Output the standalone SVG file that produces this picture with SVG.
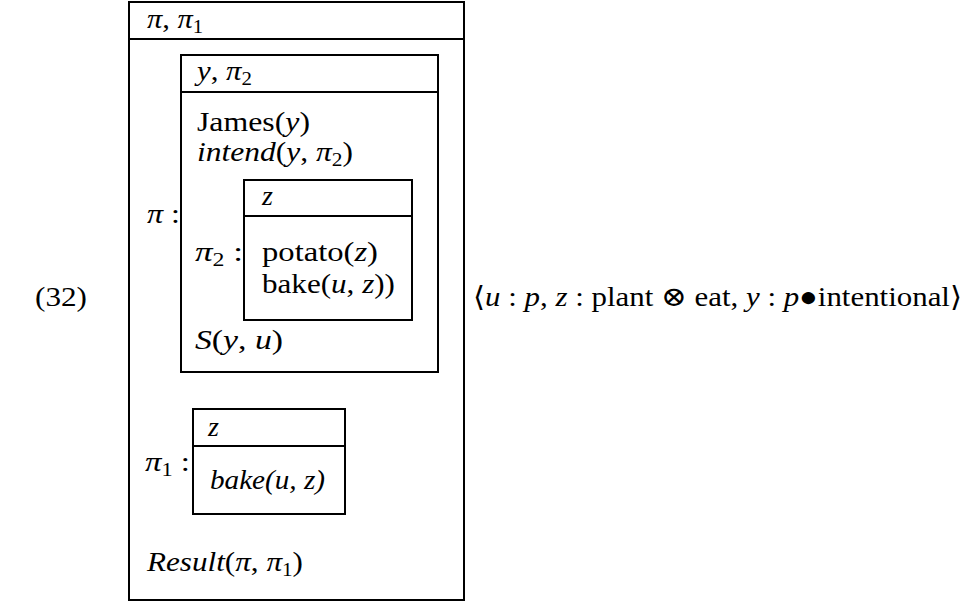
<svg xmlns="http://www.w3.org/2000/svg" width="966" height="602" viewBox="0 0 966 602">
<style>
rect.b{fill:none;stroke:#000;stroke-width:2}
line.h{stroke:#000;stroke-width:2}
text{font-family:"Liberation Serif","DejaVu Serif",serif;font-size:28px;fill:#000}
.i{font-style:italic}
.s{font-size:19px}
</style>
<rect width="966" height="602" fill="#fff"/>
<text x="35" y="306" textLength="52" lengthAdjust="spacingAndGlyphs">(32)</text>
<g id="outer">
<rect class="b" x="129" y="2" width="335" height="598"/>
<line class="h" x1="129" y1="39" x2="464" y2="39"/>
<text x="147" y="28" textLength="56" lengthAdjust="spacingAndGlyphs"><tspan class="i">π</tspan>, <tspan class="i">π</tspan><tspan class="s" dy="5">1</tspan></text>
<text x="147" y="223" textLength="33" lengthAdjust="spacingAndGlyphs"><tspan class="i">π</tspan> :</text>
<text x="147" y="571" textLength="156" lengthAdjust="spacingAndGlyphs"><tspan class="i">Result</tspan>(<tspan class="i">π</tspan>, <tspan class="i">π</tspan><tspan class="s" dy="5">1</tspan><tspan dy="-5">)</tspan></text>
</g>
<g id="box-y">
<rect class="b" x="181" y="55" width="257" height="317"/>
<line class="h" x1="181" y1="92" x2="438" y2="92"/>
<text x="197" y="80" textLength="55" lengthAdjust="spacingAndGlyphs"><tspan class="i">y</tspan>, <tspan class="i">π</tspan><tspan class="s" dy="5">2</tspan></text>
<text x="197" y="131" textLength="113" lengthAdjust="spacingAndGlyphs">James(<tspan class="i">y</tspan>)</text>
<text x="197" y="161" textLength="156" lengthAdjust="spacingAndGlyphs"><tspan class="i">intend</tspan>(<tspan class="i">y</tspan>, <tspan class="i">π</tspan><tspan class="s" dy="5">2</tspan><tspan dy="-5">)</tspan></text>
<text x="195" y="261" textLength="48" lengthAdjust="spacingAndGlyphs"><tspan class="i">π</tspan><tspan class="s" dy="5">2</tspan><tspan dy="-5"> :</tspan></text>
<text x="195" y="349" textLength="88" lengthAdjust="spacingAndGlyphs"><tspan class="i">S</tspan>(<tspan class="i">y</tspan>, <tspan class="i">u</tspan>)</text>
</g>
<g id="box-z1">
<rect class="b" x="244" y="180" width="168" height="140"/>
<line class="h" x1="244" y1="216" x2="412" y2="216"/>
<text x="262" y="205" class="i">z</text>
<text x="262" y="261" textLength="116" lengthAdjust="spacingAndGlyphs">potato(<tspan class="i">z</tspan>)</text>
<text x="262" y="293" textLength="133" lengthAdjust="spacingAndGlyphs">bake(<tspan class="i">u</tspan>, <tspan class="i">z</tspan>))</text>
</g>
<g id="box-z2">
<rect class="b" x="193" y="409" width="152" height="105"/>
<line class="h" x1="193" y1="446" x2="345" y2="446"/>
<text x="208" y="436" class="i">z</text>
<text x="145" y="471" textLength="45" lengthAdjust="spacingAndGlyphs"><tspan class="i">π</tspan><tspan class="s" dy="5">1</tspan><tspan dy="-5"> :</tspan></text>
<text x="210" y="489" class="i" textLength="115" lengthAdjust="spacingAndGlyphs">bake(u, z)</text>
</g>
<text x="473" y="306" textLength="489" lengthAdjust="spacingAndGlyphs">⟨<tspan class="i">u</tspan> : <tspan class="i">p</tspan>, <tspan class="i">z</tspan> : plant ⊗ eat, <tspan class="i">y</tspan> : <tspan class="i">p</tspan>●intentional⟩</text>
<g id="connectors"/>
</svg>
